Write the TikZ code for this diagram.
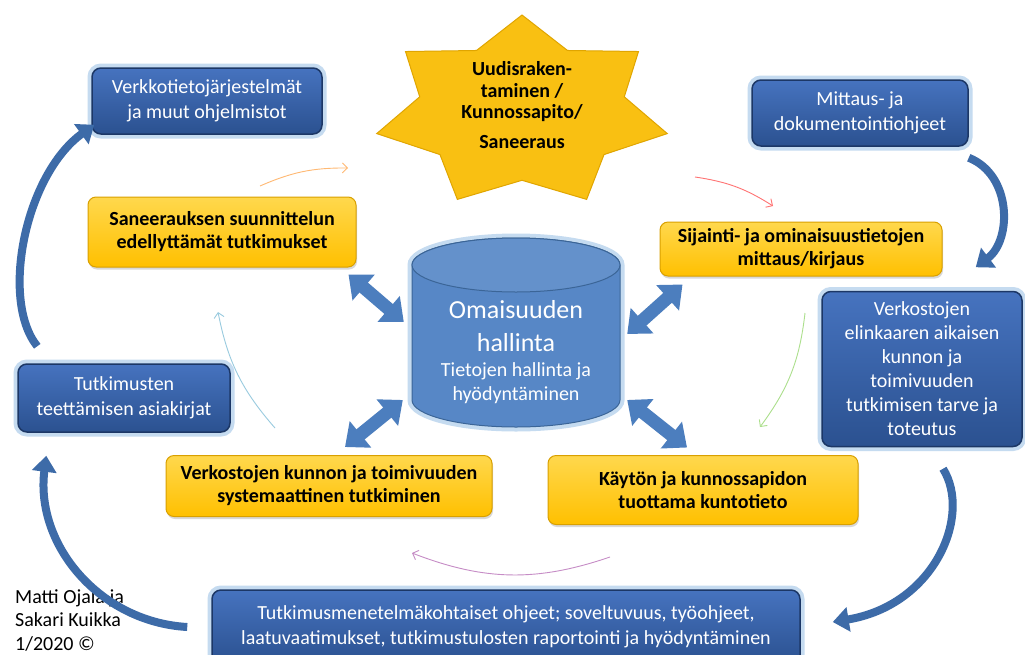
\documentclass[tikz,border=0pt]{standalone}
\usepackage{fontspec}
\setmainfont{Carlito}
\usetikzlibrary{shapes.geometric, arrows.meta, positioning, shadows}

\definecolor{boxblue}{HTML}{2B5190}
\definecolor{boxbluetop}{HTML}{4673BF}
\definecolor{boxline}{HTML}{1C3766}
\definecolor{glowblue}{HTML}{C5DBF0}
\definecolor{boxyellow}{HTML}{FFC000}
\definecolor{boxyellowtop}{HTML}{FFD84D}
\definecolor{yellowline}{HTML}{D9A000}
\definecolor{stargold}{HTML}{F9C012}
\definecolor{starline}{HTML}{E0A500}
\definecolor{cylblue}{HTML}{5787C6}
\definecolor{cylline}{HTML}{3B6597}
\definecolor{arrowblue}{HTML}{4C7EBE}
\definecolor{curveblue}{HTML}{3D6BA8}

\newcommand{\bigtext}{\fontsize{26}{31}\selectfont}
\newcommand{\smalltext}{\fontsize{20}{24}\selectfont}

\begin{document}
\begin{tikzpicture}[x=1pt, y=1pt,
    bluebox/.style={rectangle, rounded corners=9pt, draw=boxline, line width=1.5pt, top color=boxbluetop, bottom color=boxblue, text=white, align=center, inner sep=2pt, font=\fontsize{20}{24.5}\selectfont, preaction={draw=glowblue, line width=9pt}},
    yellowbox/.style={rectangle, rounded corners=8pt, draw=yellowline, line width=1pt, top color=boxyellowtop, bottom color=boxyellow, text=black, align=center, inner sep=2pt, font=\bfseries\fontsize{20}{23}\selectfont, drop shadow={shadow xshift=1pt, shadow yshift=-2.5pt, opacity=0.3}},
    startext/.style={align=center, text=black, font=\bfseries\fontsize{20}{21.5}\selectfont},
    credit/.style={align=left, inner sep=0pt, font=\fontsize{20}{23.5}\selectfont},
    dbl/.style={draw=arrowblue, line width=13pt, {Triangle[length=20pt, width=33pt]}-{Triangle[length=20pt, width=33pt]}},
    bigcurve/.style={draw=curveblue, line width=8pt, -{Triangle[length=16pt, width=24pt]}},
    thin/.style={line width=0.9pt, -{Straight Barb[length=5pt, width=10pt]}},
]
    \fill[white] (0,0) rectangle (1025,-654);
    \useasboundingbox (0,0) rectangle (1025,-654);

    % Star
    \draw[fill=stargold, draw=starline, line width=1pt] plot[samples at={0,...,13}, variable=\k] ({522+149*(0.852+0.148*cos(180*\k))*cos(90+\k*180/7)}, {-112+97*(0.852+0.148*cos(180*\k))*sin(90+\k*180/7)}) -- cycle;
    \node[startext] (startxt) at (522,-105) {Uudisraken-\\taminen /\\Kunnossapito/\\[8pt]Saneeraus};

    % Cylinder
    \path[fill=cylblue, draw=cylline, line width=1pt, preaction={draw=glowblue, line width=9pt}] (412,-265) -- (412,-400) arc[start angle=180, end angle=360, x radius=104, y radius=27] -- (620,-265) arc[start angle=0, end angle=180, x radius=104, y radius=27] -- cycle;
    \draw[fill=cylblue!92!white, draw=cylline, line width=1pt] (516,-265) ellipse[x radius=104, y radius=27];
    \node[rectangle, minimum width=208pt, minimum height=190pt, align=center, text=white, font=\smalltext] (cyl) at (516,-352) {\bigtext Omaisuuden\\[9pt]\bigtext hallinta\\[1pt]Tietojen hallinta ja\\hyödyntäminen};

    % Boxes
    \node[bluebox, minimum width=230pt, minimum height=66pt] (verk) at (207,-101) {Verkkotietojärjestelmät\\ja muut ohjelmistot};
    \node[bluebox, minimum width=216pt, minimum height=66pt] (mitt) at (860,-113) {Mittaus- ja\\dokumentointiohjeet};
    \node[yellowbox, minimum width=268pt, minimum height=70pt] (san) at (222,-232) {Saneerauksen suunnittelun\\edellyttämät tutkimukset};
    \node[yellowbox, minimum width=282pt, minimum height=54pt] (sij) at (801,-249) {Sijainti- ja ominaisuustietojen\\mittaus/kirjaus};
    \node[bluebox, minimum width=200pt, minimum height=155pt, font=\fontsize{20}{24}\selectfont] (elin) at (922,-369) {Verkostojen\\elinkaaren aikaisen\\kunnon ja\\toimivuuden\\tutkimisen tarve ja\\toteutus};
    \node[bluebox, minimum width=212pt, minimum height=68pt] (tut) at (124,-398) {Tutkimusten\\teettämisen asiakirjat};
    \node[yellowbox, minimum width=326pt, minimum height=61pt] (kun) at (329,-486) {Verkostojen kunnon ja toimivuuden\\systemaattinen tutkiminen};
    \node[yellowbox, minimum width=310pt, minimum height=69pt] (kay) at (703,-490) {Käytön ja kunnossapidon\\tuottama kuntotieto};
    \node[bluebox, minimum width=588pt, minimum height=74pt] (men) at (506,-627) {Tutkimusmenetelmäkohtaiset ohjeet; soveltuvuus, työohjeet,\\laatuvaatimukset, tutkimustulosten raportointi ja hyödyntäminen};
    \node[credit, anchor=north west] (auth) at (15,-589) {Matti Ojala ja\\Sakari Kuikka\\1/2020 ©};

    % Double arrows to the cylinder
    \draw[dbl] ([shift={(-8,-7)}]san.south east) -- ([shift={(-8,30)}]cyl.west);
    \draw[dbl] ([shift={(23,-8)}]sij.south west) -- ([shift={(7,18)}]cyl.east);
    \draw[dbl] ([shift={(16,8)}]kun.north) -- ([shift={(-9,-48)}]cyl.west);
    \draw[dbl] ([shift={(-16,7.5)}]kay.north) -- ([shift={(7,-48)}]cyl.east);

    % Outer cycle
    \draw[bigcurve] ([shift={(20,17)}]tut.north west) .. controls (0,-300) and (25,-175) .. ([shift={(3,10)}]verk.south west);
    \draw[bigcurve] ([shift={(0,-11)}]mitt.south east) .. controls (1012,-175) and (1012,-240) .. ([shift={(-47,23.5)}]elin.north east);
    \draw[bigcurve] ([shift={(21,-21.5)}]elin.south) .. controls (972,-515) and (935,-605) .. ([shift={(32,5)}]men.east);
    \draw[bigcurve] ([shift={(-24,0)}]men.west) .. controls (100,-622) and (35,-545) .. ([shift={(29,-23)}]tut.south west);

    % Inner cycle
    \coordinate (or1) at (260,-186);
    \coordinate (or2) at (348,-168);
    \coordinate (rd1) at (695,-177);
    \coordinate (rd2) at (773,-206);
    \coordinate (gr1) at (805,-313);
    \coordinate (gr2) at (760,-427);
    \coordinate (pu1) at (610,-557);
    \coordinate (pu2) at (412,-553);
    \coordinate (cy1) at (275,-428);
    \coordinate (cy2) at (218,-312);
    \draw[thin, draw=orange!55!white] (or1) to[bend left=12] (or2);
    \draw[thin, draw=red!55!white] (rd1) to[bend left=12] (rd2);
    \draw[thin, draw=green!45!olive!45!white] (gr1) to[bend left=15] (gr2);
    \draw[thin, draw=violet!45!white] (pu1) to[bend left=20] (pu2);
    \draw[thin, draw=cyan!45!teal!45!white] (cy1) to[bend left=15] (cy2);
\end{tikzpicture}
\end{document}
